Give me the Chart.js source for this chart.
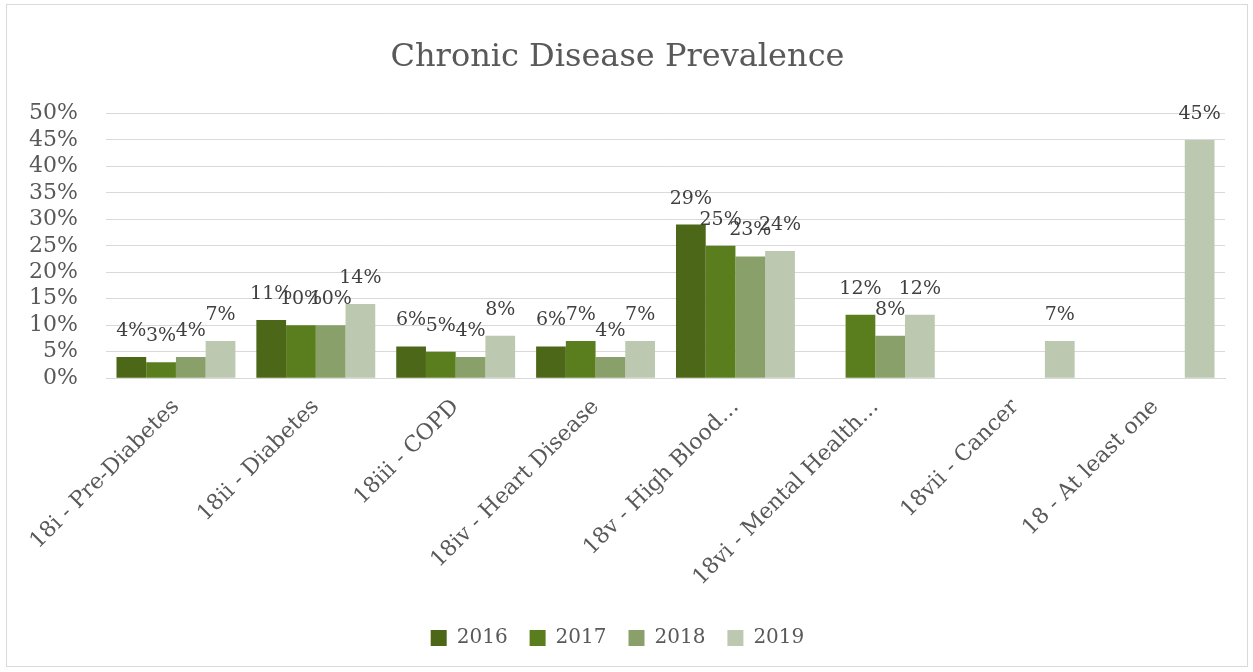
<!DOCTYPE html>
<html>
<head>
<meta charset="utf-8">
<script src="https://cdn.jsdelivr.net/npm/chart.js@4"></script>
<style>
  html, body { margin: 0; padding: 0; background: #fff; }
  #wrap { position: absolute; left: 0; top: 0; width: 1253px; height: 672px; }
</style>
</head>
<body>
<div id="wrap"><canvas id="chart"></canvas></div>
<script>
// categories and values (percent)
const categories = [
  "18i - Pre-Diabetes",
  "18ii - Diabetes",
  "18iii - COPD",
  "18iv - Heart Disease",
  "18v - High Blood\u2026",
  "18vi - Mental Health\u2026",
  "18vii - Cancer",
  "18 - At least one"
];
const years = ["2016", "2017", "2018", "2019"];
const v2016 = [4, 11, 6, 6, 29, null, null, null];
const v2017 = [3, 10, 5, 7, 25, 12, null, null];
const v2018 = [4, 10, 4, 4, 23, 8, null, null];
const v2019 = [7, 14, 8, 7, 24, 12, 7, 45];
const yTicks = [0, 5, 10, 15, 20, 25, 30, 35, 40, 45, 50];

const colors = ["#4b6717", "#5a7e1e", "#8aa06a", "#bcc8b0"];
const fontFam = "'DejaVu Serif', serif";

// draws the value labels above each bar
const barLabels = {
  id: "barLabels",
  afterDatasetsDraw(chart) {
    const ctx = chart.ctx;
    ctx.save();
    ctx.font = "19px " + fontFam;
    ctx.fillStyle = "#404040";
    ctx.textAlign = "center";
    ctx.textBaseline = "middle";
    chart.data.datasets.forEach((ds, i) => {
      chart.getDatasetMeta(i).data.forEach((bar, j) => {
        if (ds.data[j] == null) return;
        ctx.fillText(ds.data[j] + "%", bar.x, bar.y - 26);
      });
    });
    ctx.restore();
  }
};

// outer frame
const frame = {
  id: "frame",
  beforeDraw(chart) {
    const ctx = chart.ctx;
    ctx.save();
    ctx.fillStyle = "#fff";
    ctx.fillRect(0, 0, chart.width, chart.height);
    ctx.strokeStyle = "#d9d9d9";
    ctx.lineWidth = 1;
    ctx.strokeRect(6.5, 4.5, 1241, 662);
    ctx.restore();
  }
};

const series = [v2016, v2017, v2018, v2019];

new Chart(document.getElementById("chart"), {
  type: "bar",
  data: {
    labels: categories,
    datasets: years.map((y, i) => ({
      label: y,
      data: series[i],
      backgroundColor: colors[i],
      borderWidth: 0,
      categoryPercentage: 0.85,
      barPercentage: 1
    }))
  },
  options: {
    responsive: true,
    maintainAspectRatio: false,
    animation: false,
    layout: { padding: { top: 15, left: 10, right: 28, bottom: 14 } },
    plugins: {
      title: {
        display: true,
        text: "Chronic Disease Prevalence",
        color: "#595959",
        font: { family: fontFam, size: 32, weight: "normal" },
        padding: { top: 23, bottom: 37 }
      },
      legend: {
        position: "bottom",
        labels: {
          color: "#595959",
          font: { family: fontFam, size: 20 },
          boxWidth: 16,
          boxHeight: 16,
          padding: 22
        }
      },
      tooltip: { enabled: false }
    },
    scales: {
      x: {
        grid: { display: false },
        border: { display: true, color: "#d9d9d9" },
        afterFit(scale) {
          scale.height = scale.height + 7;
        },
        ticks: {
          color: "#595959",
          font: { family: fontFam, size: 22 },
          maxRotation: 45,
          minRotation: 45,
          autoSkip: false,
          padding: 8
        }
      },
      y: {
        min: 0,
        max: 50,
        afterBuildTicks(scale) {
          scale.ticks = yTicks.map(v => ({ value: v }));
        },
        afterFit(scale) {
          scale.width = 96;
        },
        grid: { color: "#d9d9d9", drawTicks: false },
        border: { display: false },
        ticks: {
          color: "#595959",
          font: { family: fontFam, size: 22 },
          padding: 28,
          autoSkip: false,
          callback: v => v + "%"
        }
      }
    }
  },
  plugins: [frame, barLabels]
});
</script>
</body>
</html>
